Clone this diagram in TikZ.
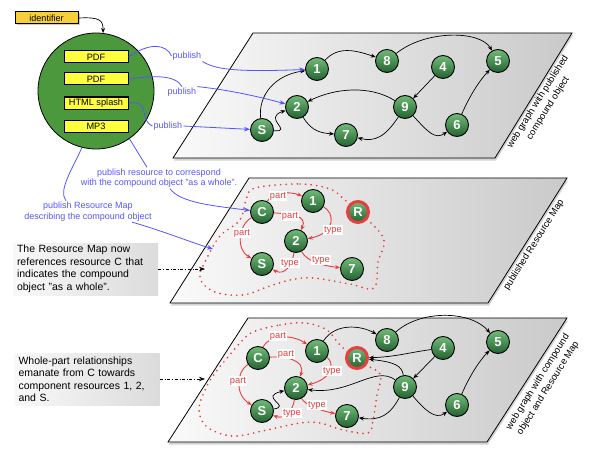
\documentclass[tikz,border=0pt]{standalone}
\usepackage{fontspec}
\setmainfont{Liberation Sans}
\usetikzlibrary{arrows.meta,shadows,calc}
\definecolor{blc}{RGB}{85,85,255}
\definecolor{redc}{RGB}{232,62,62}
\definecolor{cgreen}{RGB}{76,152,60}
\definecolor{ybox}{RGB}{255,255,60}
\definecolor{idy}{RGB}{246,208,60}
\definecolor{gtop}{RGB}{112,188,120}
\definecolor{gbot}{RGB}{35,98,48}
\begin{document}
\begin{tikzpicture}[x=1pt,y=-1pt,
  gn/.style={circle,draw=black,line width=0.9pt,minimum size=23pt,inner sep=0pt,top color=gtop,bottom color=gbot,text=white,font=\fontsize{13}{13}\selectfont\bfseries},
  rn/.style={gn,draw=redc,line width=3pt,minimum size=21pt},
  plane/.style={draw=black,line width=0.8pt,left color=gray!4,right color=gray!42,drop shadow={opacity=0.35,shadow xshift=1pt,shadow yshift=-2.5pt}},
  ed/.style={line width=0.7pt,-{Stealth[length=5pt,width=4pt]}},
  rel/.style={redc,line width=0.9pt,-{Stealth[length=5pt,width=4pt]}},
  pub/.style={text=blc,font=\fontsize{9}{10.5}\selectfont,inner sep=1pt,align=center},
  bl/.style={blc,line width=0.8pt},
  bla/.style={bl,-{Stealth[length=6pt,width=4.5pt]}},
  lab/.style={fill=white,text=redc,font=\fontsize{9.3}{9.3}\selectfont,inner sep=1.3pt},
  ybx/.style={draw=black,line width=1pt,fill=ybox,minimum width=64pt,minimum height=12pt,inner sep=0pt,font=\fontsize{9.2}{9.2}\selectfont},
  side/.style={font=\fontsize{9.5}{12}\selectfont,rotate=58,align=center},
  tbox/.style={left color=gray!5,right color=gray!28,minimum width=145pt,minimum height=52pt,text width=137pt,inner xsep=4pt,inner ysep=0pt,align=left,font=\fontsize{10.5}{12.5}\selectfont},
  bnd/.style={redc,line width=1.9pt,dash pattern=on 0pt off 5.6pt,line cap=round},
  dda/.style={dash dot,line width=0.7pt,-{Stealth[length=6pt,width=4.5pt]}}
]
\useasboundingbox (0,0) rectangle (600,460);

% planes
\path[plane] (253,33) -- (572,33) -- (495,158) -- (173,158) -- cycle;
\path[plane] (249,178) -- (567,178) -- (488,303) -- (170,303) -- cycle;
\path[plane] (248,318) -- (567,318) -- (487,442) -- (168,442) -- cycle;

% resource map boundaries
\draw[bnd] plot[smooth cycle,tension=0.6] coordinates {(255,188) (300,184) (330,189) (345,200) (368,220) (384,240) (378,262) (374,288) (350,284) (313,278) (290,280) (267,287) (243,295) (215,292) (200,278) (207,258) (220,236) (240,220) (246,200)};
\draw[bnd] plot[smooth cycle,tension=0.6] coordinates {(253,332) (280,325) (305,323) (327,330) (340,345) (360,362) (380,374) (377,395) (373,420) (368,433) (343,430) (320,423) (300,423) (267,430) (233,436) (207,427) (199,410) (205,390) (215,373) (228,357) (240,343)};

% ---------- top plane ----------
\node[gn] (t1) at (317,69) {1};
\node[gn] (t8) at (387,61) {8};
\node[gn] (t4) at (443,67) {4};
\node[gn] (t5) at (498,61) {5};
\node[gn] (t2) at (297,107) {2};
\node[gn] (t9) at (405,107) {9};
\node[gn] (tS) at (262,130) {S};
\node[gn] (t7) at (346,135) {7};
\node[gn] (t6) at (457,125) {6};
\draw[ed] (t1) .. controls (338,46) and (355,50) .. (t8);
\draw[ed] (t8) .. controls (425,30) and (480,30) .. (t5);
\draw[ed] (t4) -- (t9);
\draw[ed] (t9) .. controls (370,85) and (335,88) .. (t2);
\draw[ed] (t2) .. controls (312,132) and (322,133) .. (t7);
\draw[ed] (t9) .. controls (385,137) and (375,142) .. (t7);
\draw[ed] (t9) .. controls (428,132) and (435,140) .. (t6);
\draw[ed] (t6) .. controls (470,95) and (480,80) .. (t5);
\draw[ed] (tS) .. controls (258,95) and (275,75) .. (t1);
\draw[ed] (tS) .. controls (294,132) and (262,118) .. (t2);

% ---------- middle plane ----------
\node[gn] (mC) at (262,212) {C};
\node[gn] (m1) at (313,201) {1};
\node[rn] (mR) at (358,212) {R};
\node[gn] (m2) at (296,241) {2};
\node[gn] (mS) at (262,264) {S};
\node[gn] (m7) at (352,269) {7};
\draw[rel] (mC) .. controls (272,192) and (290,191) .. (m1);
\draw[rel] (mC) .. controls (290,214) and (308,215) .. (m2);
\draw[rel] (mC) .. controls (238,225) and (236,250) .. (mS);
\draw[rel] (m1) .. controls (335,213) and (336,233) .. (m2);
\draw[rel] (m2) .. controls (292,265) and (285,276) .. (mS);
\draw[rel] (m2) .. controls (307,262) and (325,266) .. (m7);
\node[lab] (ml1) at (278,196) {part};
\node[lab] (ml2) at (290,216) {part};
\node[lab] (ml3) at (242,233) {part};
\node[lab] (ml4) at (333,230) {type};
\node[lab] (ml5) at (290,263) {type};
\node[lab] (ml6) at (321,260) {type};

% ---------- bottom plane ----------
\node[gn] (bC) at (258,358) {C};
\node[gn] (b1) at (317,351) {1};
\node[rn] (bR) at (357,358) {R};
\node[gn] (b2) at (296,388) {2};
\node[gn] (bS) at (262,411) {S};
\node[gn] (b7) at (347,416) {7};
\node[gn] (b8) at (387,340) {8};
\node[gn] (b4) at (443,348) {4};
\node[gn] (b5) at (498,342) {5};
\node[gn] (b9) at (405,387) {9};
\node[gn] (b6) at (457,405) {6};
\draw[ed] (b1) .. controls (335,323) and (360,325) .. (b8);
\draw[ed] (b8) .. controls (420,310) and (470,310) .. (b5);
\draw[ed] (b4) .. controls (412,352) and (395,357) .. (bR);
\draw[ed] (b9) .. controls (402,366) and (395,362) .. (bR);
\draw[ed] (b4) -- (b9);
\draw[ed] (b9) .. controls (375,365) and (350,395) .. (b2);
\draw[ed] (b9) .. controls (390,415) and (380,421) .. (b7);
\draw[ed] (b9) .. controls (425,410) and (435,420) .. (b6);
\draw[ed] (b6) .. controls (470,375) and (480,360) .. (b5);
\draw[ed] (bS) .. controls (292,406) and (258,397) .. (b2);
\draw[rel] (bC) .. controls (268,336) and (290,333) .. (b1);
\draw[rel] (bC) .. controls (285,356) and (306,360) .. (b2);
\draw[rel] (bC) .. controls (236,372) and (235,395) .. (bS);
\draw[rel] (b1) .. controls (334,362) and (334,378) .. (b2);
\draw[rel] (b2) .. controls (293,410) and (285,420) .. (bS);
\draw[rel] (b2) .. controls (305,405) and (322,411) .. (b7);
\node[lab] (bl1) at (278,336) {part};
\node[lab] (bl2) at (286,354) {part};
\node[lab] (bl3) at (238,381) {part};
\node[lab] (bl4) at (332,371) {type};
\node[lab] (bl5) at (292,413) {type};
\node[lab] (bl6) at (317,405) {type};

% ---------- compound object ----------
\node[draw=black,line width=1pt,fill=idy,minimum width=63pt,minimum height=12pt,inner sep=0pt,font=\fontsize{9}{9}\selectfont,drop shadow={opacity=0.4,shadow xshift=1.5pt,shadow yshift=-1.5pt}] (idb) at (46.5,18) {identifier};
\node[circle,draw=black,line width=0.8pt,fill=cgreen,minimum size=116pt,inner sep=0pt] (bigc) at (96,91) {};
\draw[line width=0.7pt,-{Stealth[length=5pt,width=4pt]}] (idb.east) .. controls (100,17) and (103,20) .. (bigc.83);
\node[ybx] (p1) at (96,57) {PDF};
\node[ybx] (p2) at (96,79) {PDF};
\node[ybx] (p3) at (96,103) {HTML splash};
\node[ybx] (p4) at (96,126) {MP3};

% ---------- publish connectors ----------
\node[pub] (pub1) at (187,56) {publish};
\node[pub] (pub2) at (182,92) {publish};
\node[pub] (pub3) at (168,126) {publish};
\draw[bl] (p1.east) .. controls (150,42) and (166,44) .. (pub1.west);
\draw[bla] (pub1.south east) .. controls (215,70) and (240,72) .. (t1);
\draw[bl] (p2.east) .. controls (152,76) and (175,74) .. (pub2.north);
\draw[bla] (pub2.north east) .. controls (230,90) and (260,97) .. (t2);
\draw[bl] (p3.east) .. controls (152,100) and (138,120) .. (pub3.west);
\draw[bla] (pub3.east) -- (tS);

\node[pub] (pubres) at (159,178) {publish resource to correspond\\with the compound object "as a whole".};
\draw[bl] (bigc.-55) -- ([xshift=-12pt]pubres.north);
\draw[bla] ([xshift=11pt]pubres.south) .. controls (180,203) and (215,206) .. (mC);

\node[pub] (pubrm) at (88,211.5) {publish Resource Map\\describing the compound object};
\coordinate (mtip) at (213,249);
\draw[bl] (bigc.-104) .. controls (72,170) and (58,190) .. ([xshift=-22pt]pubrm.north);
\draw[bla] ([xshift=44pt]pubrm.south) .. controls (160,230) and (190,242) .. (mtip);

% ---------- explanation boxes ----------
\node[tbox] (tb1) at (85.5,269) {The Resource Map now\\references resource C that\\indicates the compound\\object "as a whole".};
\coordinate (dd1) at (205,269);
\draw[dda] (tb1.east) -- (dd1);
\node[tbox] (tb2) at (87,379) {Whole-part relationships\\emanate from C towards\\component resources 1, 2,\\and S.};
\coordinate (dd2) at (205,379);
\draw[dda] (tb2.east) -- (dd2);

% ---------- side labels ----------
\node[side] (sl1) at (543,105) {web graph with published\\compound object};
\node[side] (sl2) at (534,245) {published Resource Map};
\node[side] (sl3) at (543,385) {web graph with compound\\object and Resource Map};
\end{tikzpicture}
\end{document}
